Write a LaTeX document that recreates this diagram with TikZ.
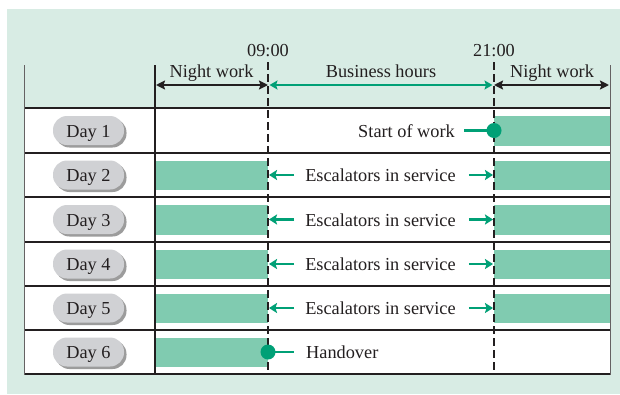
\documentclass[tikz,border=0pt]{standalone}
\usepackage{fontspec}
\setmainfont{Liberation Serif}
\usetikzlibrary{arrows.meta,shadows}
\definecolor{bgc}{RGB}{216,236,228}
\definecolor{barc}{RGB}{128,203,176}
\definecolor{grn}{RGB}{0,160,118}
\definecolor{ink}{RGB}{35,31,32}
\definecolor{pillc}{RGB}{208,209,212}
\tikzset{
  txt/.style={inner sep=0pt, text=ink, font=\fontsize{18.3}{20}\selectfont},
  pill/.style={txt, anchor=center, fill=pillc, rounded corners=14pt, minimum width=71pt, minimum height=29pt,
    text height=13pt, text depth=0pt,
    drop shadow={shadow xshift=2.5pt, shadow yshift=-2.5pt, fill=black!55, opacity=0.7}},
  rule/.style={ink, line width=2pt},
  thinline/.style={ink!70, line width=0.8pt},
  timeline/.style={ink, line width=1.6pt, dash pattern=on 8pt off 4pt},
  bar/.style={fill=barc},
  blk/.style={ink, line width=2.4pt, {Stealth[length=9pt,width=9pt,inset=1.5pt]}-{Stealth[length=9pt,width=9pt,inset=1.5pt]}},
  garr/.style={grn, line width=2.8pt, -{Stealth[length=8pt,width=10pt,inset=1.5pt]}},
  gline/.style={grn, line width=2.8pt},
  dot/.style={circle, fill=grn, inner sep=0pt, minimum size=15pt},
}
\begin{document}
\begin{tikzpicture}[x=1pt,y=-1pt]
\useasboundingbox (0,0) rectangle (620,394);
\fill[white] (0,0) rectangle (620,394);
\fill[bgc] (7,9) rectangle (620,394);
\fill[white] (24,108) rectangle (610,374);
% bars
\foreach \t/\b in {153/197,197/242,242/286,286/330,330/374}{
  \fill[bar] (155,\t+8) rectangle (268,\b-7);
}
\foreach \t/\b in {108/153,153/197,197/242,242/286,286/330}{
  \fill[bar] (494,\t+8) rectangle (610,\b-7);
}
% grid
\foreach \y in {108,153,197,242,286,330,374}{
  \draw[rule] (24,\y) -- (610,\y);
}
\draw[thinline] (24,65) -- (24,375);
\draw[thinline] (610,65) -- (610,375);
\draw[rule] (155,65) -- (155,375);
% time labels
\node[txt, anchor=base] (t9) at (268,56.5) {09:00};
\node[txt, anchor=base] (t21) at (494,56.5) {21:00};
\coordinate (v9) at (268,374);
\coordinate (v21) at (494,374);
\draw[timeline] ([yshift=-5.5pt]t9.south) -- (v9);
\draw[timeline] ([yshift=-5.5pt]t21.south) -- (v21);
% header arrows
\coordinate (a0) at (156,85);
\coordinate (a1) at (268,85);
\coordinate (a2) at (494,85);
\coordinate (a3) at (609,85);
\draw[blk] (a0) -- (a1);
\draw[grn, line width=2.4pt, {Stealth[length=8pt,width=9pt,inset=1.5pt]}-{Stealth[length=8pt,width=9pt,inset=1.5pt]}] ([xshift=1.5pt]a1) -- ([xshift=-1.5pt]a2);
\draw[blk] (a2) -- (a3);
\node[txt, anchor=base] (h1) at (211.5,77.5) {Night work};
\node[txt, anchor=base] (h2) at (381,77.5) {Business hours};
\node[txt, anchor=base] (h3) at (552,77.5) {Night work};
% day pills
\foreach \i/\c in {1/130.5,2/175,3/219.5,4/264,5/308,6/352}{
  \node[pill] (d\i) at (88.5,\c) {Day \i};
}
% row 1
\node[dot] (s1) at (494,130.5) {};
\node[txt, anchor=base east] (sw) at (455,137) {Start of work};
\draw[gline] ([xshift=9pt]sw.east |- s1) -- (s1.center);
% rows 2-5
\foreach \i/\c in {2/175,3/219.5,4/264,5/308}{
  \node[txt, anchor=base] (e\i) at (380.5,\c+6.5) {Escalators in service};
  \coordinate (l\i) at (269,\c);
  \coordinate (r\i) at (493,\c);
  \draw[garr] ([xshift=-11pt]e\i.west |- l\i) -- (l\i);
  \draw[garr] ([xshift=13pt]e\i.east |- r\i) -- (r\i);
}
% row 6
\node[dot] (s6) at (268,352) {};
\node[txt, anchor=base west] (ho) at (306,358.5) {Handover};
\draw[gline] (s6.center) -- ([xshift=-12pt]ho.west |- s6);
\end{tikzpicture}
\end{document}
